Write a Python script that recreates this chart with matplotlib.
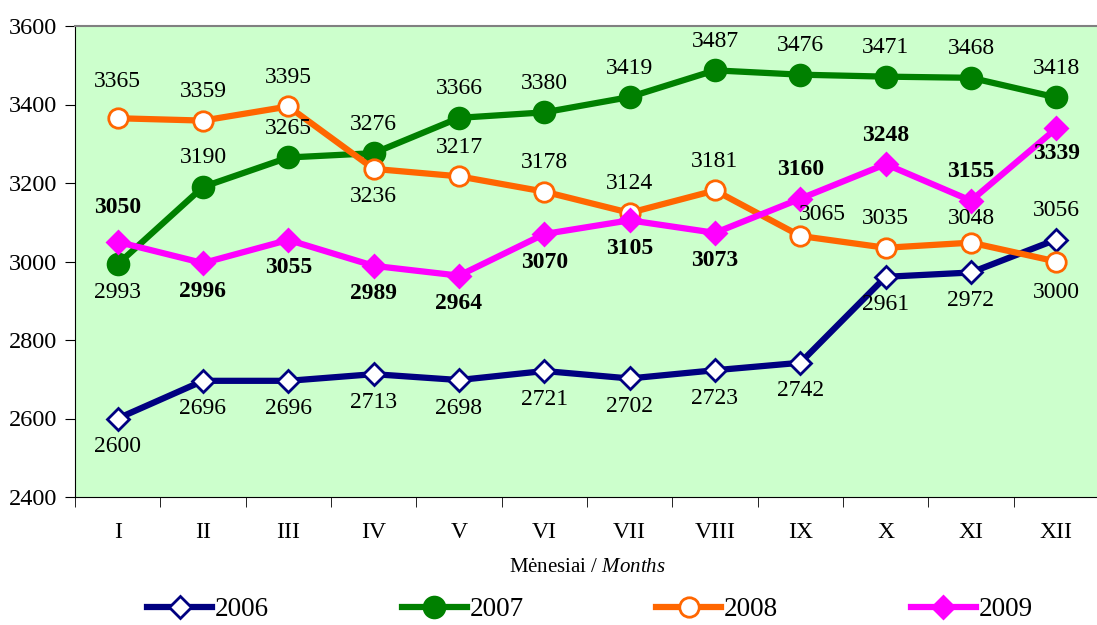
import matplotlib.pyplot as plt
import matplotlib as mpl
from matplotlib.ticker import FixedLocator

mpl.rcParams['font.family'] = ['Liberation Serif', 'DejaVu Serif']
mpl.rcParams['mathtext.fontset'] = 'custom'
mpl.rcParams['mathtext.rm'] = 'Liberation Serif'
mpl.rcParams['mathtext.it'] = 'Liberation Serif:italic'

months = ['I', 'II', 'III', 'IV', 'V', 'VI', 'VII', 'VIII', 'IX', 'X', 'XI', 'XII']
years = ['2006', '2007', '2008', '2009']
v2006 = [2600, 2696, 2696, 2713, 2698, 2721, 2702, 2723, 2742, 2961, 2972, 3056]
v2007 = [2993, 3190, 3265, 3276, 3366, 3380, 3419, 3487, 3476, 3471, 3468, 3418]
v2008 = [3365, 3359, 3395, 3236, 3217, 3178, 3124, 3181, 3065, 3035, 3048, 3000]
v2009 = [3050, 2996, 3055, 2989, 2964, 3070, 3105, 3073, 3160, 3248, 3155, 3339]

# label offsets in pixels (dx, dy)
up, dn = (0, 29), (0, -28)
off2006 = [dn, dn, dn, dn, dn, dn, dn, dn, dn, dn, dn, up]
off2007 = [dn, up, up, up, up, up, up, up, up, up, up, up]
off2008 = [(0, 37), up, up, dn, up, up, up, up, (22, 21), up, (0, 24), (0, -31)]
off2009 = [(0, 34), dn, dn, dn, dn, dn, dn, dn, up, up, up, (0, -25)]

fig = plt.figure(figsize=(10.97, 6.25), dpi=100)
ax = fig.add_axes([75 / 1097, 1 - 497 / 625, 1024 / 1097, 471 / 625])
ax.set_facecolor('#ccffcc')

x = list(range(len(months)))
styles = [
    (v2006, '#000080', 'D', 'white', 11, off2006, 'normal'),
    (v2007, '#008000', 'o', '#008000', 15, off2007, 'normal'),
    (v2008, '#ff6600', 'o', 'white', 14, off2008, 'normal'),
    (v2009, '#ff00ff', 'D', '#ff00ff', 11, off2009, 'bold'),
]
for (vals, col, mk, fc, ms, offs, fw), yr in zip(styles, years):
    ax.plot(x, vals, color=col, lw=4.5, marker=mk, markersize=ms,
            markerfacecolor=fc, markeredgecolor=col, markeredgewidth=2,
            label=yr, clip_on=False, zorder=3)
    for xi, v, o in zip(x, vals, offs):
        ax.annotate(str(v), (xi, v), xytext=o, textcoords='offset pixels',
                    ha='center', va='center', fontsize=17, fontweight=fw,
                    zorder=4)

ax.set_xlim(-0.5, 11.5)
ax.set_ylim(2400, 3600)
ax.set_yticks(range(2400, 3601, 200))
ax.set_xticks(x)
ax.set_xticklabels(months)
ax.xaxis.set_minor_locator(FixedLocator([i - 0.5 for i in range(13)]))
ax.tick_params(axis='x', which='major', length=0, pad=18, labelsize=17)
ax.tick_params(axis='x', which='minor', length=7, direction='out')
ax.tick_params(axis='y', length=7, direction='out', pad=6, labelsize=17.5)
ax.spines['top'].set_color('#808080')
ax.spines['right'].set_visible(False)
ax.spines['top'].set_linewidth(1.5)
ax.set_xlabel('Mėnesiai / $\\it{Months}$', fontsize=15, labelpad=11)

fig.legend(loc='center', bbox_to_anchor=(590 / 1097, 1 - 610 / 625), ncol=4, frameon=False,
           fontsize=19.5, handlelength=2.4, handletextpad=0.1, columnspacing=4.9)

fig.savefig('out.png', dpi=100)
